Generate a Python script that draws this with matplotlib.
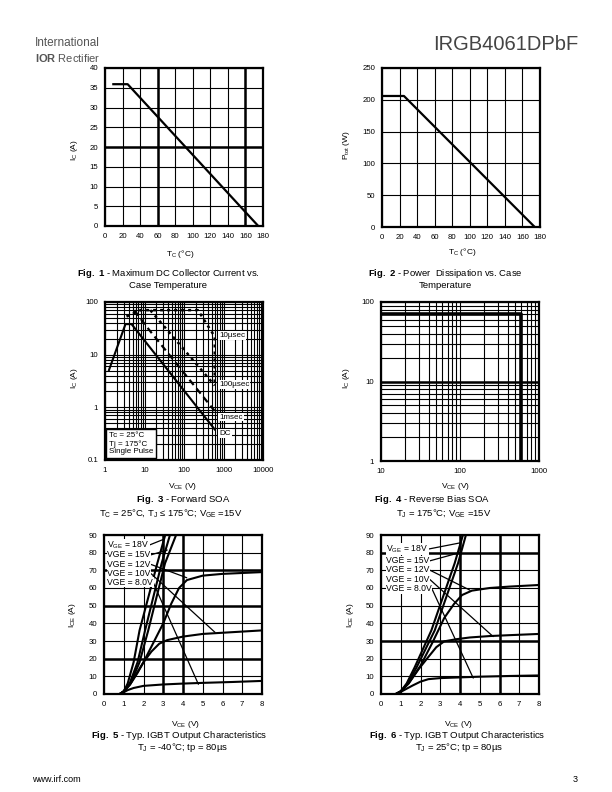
import matplotlib
matplotlib.use('Agg')
import matplotlib.pyplot as plt
from matplotlib.ticker import NullFormatter

plt.rcParams['font.family'] = ['Liberation Sans', 'DejaVu Sans']
plt.rcParams['mathtext.fontset'] = 'custom'
plt.rcParams['mathtext.rm'] = 'Liberation Sans'
plt.rcParams['mathtext.it'] = 'Liberation Sans:italic'
plt.rcParams['mathtext.bf'] = 'Liberation Sans:bold'
plt.rcParams['mathtext.default'] = 'regular'

W, H = 612, 792
CAP = 6.8

# Fig. 1 - max DC collector current vs case temperature
fig1_tc = [9.5, 25.8, 174.6]
fig1_ic = [35.9, 35.9, 0]

# Fig. 2 - power dissipation vs case temperature
fig2_tc = [0, 25, 174]
fig2_ptot = [206, 206, 0]

# Fig. 3 - forward SOA
soa_dc_v = [1.26, 3.3, 4.7, 600]
soa_dc_i = [5.1, 38, 38, 0.38]
soa_1ms_v = [5.5, 11.3, 600]
soa_1ms_i = [70, 34, 0.85]
soa_100us_v = [14, 600]
soa_100us_i = [70, 2.6]
soa_10us_v = [3.5, 8, 225, 600, 600]
soa_10us_i = [53, 70, 70, 22, 2.6]
soa_labels = ['10µsec', '100µsec', '1msec', 'DC']
soa_label_i = [23, 2.74, 0.65, 0.32]

# Fig. 4 - reverse bias SOA
rbsoa_v = [10, 600, 600]
rbsoa_i = [70, 70, 1]

# Fig. 5 - output characteristics, Tj = -40C
f5_18_v = [0.8, 1.0, 1.2, 1.5, 1.8, 2.7, 3.1]
f5_18_i = [0, 1.5, 6, 18, 36, 74, 90]
f5_15_v = [0.8, 1.0, 1.3, 1.7, 2.08, 2.92, 3.34]
f5_15_i = [0, 1.5, 6, 18, 36, 74, 90]
f5_xx_v = [0.8, 1.0, 1.35, 1.8, 2.24, 3.09, 3.65]
f5_xx_i = [0, 1.5, 6, 18, 36, 74, 90]
f5_12_v = [0.8, 1.0, 1.4, 2.0, 2.5, 3.0, 3.4, 3.8, 4.2, 5.0, 6.0, 8.0]
f5_12_i = [0, 1.5, 7, 18, 29, 40, 51, 60, 64.5, 67, 68, 69]
f5_10_v = [0.8, 1.0, 1.3, 1.7, 2.0, 2.4, 2.8, 3.2, 4.0, 5.0, 6.5, 8.0]
f5_10_i = [0, 1.5, 5, 12, 18, 24, 28.5, 30.5, 32.5, 34, 35, 36]
f5_8_v = [0.8, 1.0, 1.2, 1.5, 2.0, 3.0, 4.0, 5.0, 6.5, 8.0]
f5_8_i = [0, 1.0, 2.2, 3.4, 4.6, 5.4, 5.9, 6.3, 6.8, 7.4]

# Fig. 6 - output characteristics, Tj = 25C
f6_18_v = [0.75, 1.0, 1.3, 1.7, 2.55, 3.73, 4.15]
f6_18_i = [0, 1.5, 6, 15, 36, 74, 90]
f6_15_v = [0.75, 1.0, 1.35, 1.8, 2.72, 3.9, 4.3]
f6_15_i = [0, 1.5, 6, 15, 36, 74, 90]
f6_12_v = [0.75, 1.0, 1.4, 2.0, 2.6, 3.2, 3.7, 4.1, 4.6, 5.5, 6.5, 8.0]
f6_12_i = [0, 1.5, 6, 16, 29, 43, 51, 56, 58.5, 60, 60.8, 61.7]
f6_10_v = [0.75, 1.0, 1.4, 1.9, 2.4, 2.8, 3.2, 3.8, 4.5, 5.5, 6.5, 8.0]
f6_10_i = [0, 1.5, 6, 14, 21, 26.5, 29.8, 31, 32, 32.8, 33.3, 34]
f6_8_v = [0.75, 1.0, 1.3, 1.6, 2.0, 2.4, 3.0, 4.0, 5.0, 6.5, 8.0]
f6_8_i = [0, 1.2, 3, 4.8, 7, 8.4, 9, 9.4, 9.8, 10.2, 10.5]

vge_labels = ['V$_{GE}$ = 18V', 'VGE = 15V', 'VGE = 12V', 'VGE = 10V', 'VGE = 8.0V']
f5_label_i = [84.3, 78.7, 73.4, 68.3, 63.2]
f5_target_v = [3.05, 3.2, 4.19, 5.62, 4.78]
f5_target_i = [87.7, 81.5, 65.8, 34.9, 5.5]
f6_label_i = [82.0, 75.3, 70.2, 65.0, 59.6]
f6_target_v = [4.03, 3.98, 4.5, 5.68, 4.67]
f6_target_i = [85.6, 80.0, 58.8, 32.5, 9.0]


def px_axes(fig, left, top, right, bottom):
    return fig.add_axes([left / W, 1 - bottom / H, (right - left) / W, (bottom - top) / H])


def ftext(fig, x, y, s, **kw):
    kw.setdefault('ha', 'center')
    kw.setdefault('va', 'center')
    kw.setdefault('fontsize', CAP)
    return fig.text(x / W, 1 - y / H, s, **kw)


def style(ax, heavy_x=(), heavy_y=()):
    for sp in ax.spines.values():
        sp.set_linewidth(1.6)
    ax.tick_params(which='both', length=0, labelsize=5.6, pad=5)
    ax.grid(which='both', color='k', lw=0.8)
    ax.set_axisbelow(True)
    for v in heavy_x:
        ax.axvline(v, color='k', lw=1.8, zorder=0.6)
    for v in heavy_y:
        ax.axhline(v, color='k', lw=1.8, zorder=0.6)


fig = plt.figure(figsize=(W / 100, H / 100), dpi=100)

# header / footer
ftext(fig, 35, 43, 'International', ha='left', fontsize=8.5, color='#555555')
ftext(fig, 35, 58, r'$\bf{IOR}$ Rectifier', ha='left', fontsize=8, color='#555555')
ftext(fig, 578, 45, 'IRGB4061DPbF', ha='right', fontsize=14.5, color='#444444')
ftext(fig, 32, 779, 'www.irf.com', ha='left', fontsize=6.5)
ftext(fig, 578, 779, '3', ha='right', fontsize=6.5)

# ---- Fig 1 ----
ax1 = px_axes(fig, 105, 68, 263, 226)
ax1.plot(fig1_tc, fig1_ic, color='k', lw=1.6)
ax1.set_xlim(0, 180)
ax1.set_ylim(0, 40)
ax1.set_xticks(range(0, 181, 20))
ax1.set_yticks(range(0, 41, 5))
style(ax1, heavy_x=(60, 160), heavy_y=(20,))
ftext(fig, 75, 150, 'I$_C$ (A)', rotation=90, fontsize=6)
ftext(fig, 180, 254, 'T$_C$ (°C)', fontsize=6)
ftext(fig, 168, 273, r'$\bf{Fig.\ 1}$ - Maximum DC Collector Current vs.')
ftext(fig, 168, 285, 'Case Temperature')

# ---- Fig 2 ----
ax2 = px_axes(fig, 382, 68, 540, 227)
ax2.plot(fig2_tc, fig2_ptot, color='k', lw=1.6)
ax2.set_xlim(0, 180)
ax2.set_ylim(0, 250)
ax2.set_xticks(range(0, 181, 20))
ax2.set_yticks(range(0, 251, 50))
style(ax2)
ftext(fig, 347, 145, 'P$_{tot}$ (W)', rotation=90, fontsize=6)
ftext(fig, 462, 252, 'T$_C$ (°C)', fontsize=6)
ftext(fig, 445, 273, r'$\bf{Fig.\ 2}$ - Power  Dissipation vs. Case')
ftext(fig, 445, 285, 'Temperature')

# ---- Fig 3 ----
ax3 = px_axes(fig, 105, 302, 263, 460)
ax3.set_xscale('log')
ax3.set_yscale('log')
ax3.plot(soa_dc_v, soa_dc_i, color='k', lw=1.5)
ax3.plot(soa_1ms_v, soa_1ms_i, color='k', lw=1.6, ls=(0, (3, 2)))
ax3.plot(soa_100us_v, soa_100us_i, color='k', lw=1.8, ls=(0, (1.2, 1.6)))
ax3.plot(soa_10us_v, soa_10us_i, color='k', lw=1.8, ls=(0, (1.2, 1.6)))
ax3.set_xlim(1, 10000)
ax3.set_ylim(0.1, 100)
ax3.set_xticks([1, 10, 100, 1000, 10000], labels=['1', '10', '100', '1000', '10000'])
ax3.set_yticks([0.1, 1, 10, 100], labels=['0.1', '1', '10', '100'])
ax3.xaxis.set_minor_formatter(NullFormatter())
ax3.yaxis.set_minor_formatter(NullFormatter())
style(ax3)
for lab, yi in zip(soa_labels, soa_label_i):
    ax3.text(783, yi, lab, fontsize=5.8, ha='left', va='center',
             bbox=dict(boxstyle='square,pad=0.1', fc='white', ec='none'))
ax3.text(0.025, 0.03, 'Tc = 25°C\nTj = 175°C\nSingle Pulse', transform=ax3.transAxes,
         fontsize=5.8, ha='left', va='bottom', linespacing=1.15,
         bbox=dict(boxstyle='square,pad=0.35', fc='white', ec='k', lw=1))
ftext(fig, 75, 378, 'I$_C$ (A)', rotation=90, fontsize=6)
ftext(fig, 182, 486, 'V$_{CE}$ (V)', fontsize=6)
ftext(fig, 183, 500, r'$\bf{Fig.\ 3}$ - Forward SOA')
ftext(fig, 171, 513, 'T$_C$ = 25°C, T$_J$ ≤ 175°C; V$_{GE}$ =15V')

# ---- Fig 4 ----
ax4 = px_axes(fig, 381, 302, 539, 461)
ax4.set_xscale('log')
ax4.set_yscale('log')
ax4.plot(rbsoa_v, rbsoa_i, color='k', lw=2.6)
ax4.set_xlim(10, 1000)
ax4.set_ylim(1, 100)
ax4.set_xticks([10, 100, 1000], labels=['10', '100', '1000'])
ax4.set_yticks([1, 10, 100], labels=['1', '10', '100'])
ax4.xaxis.set_minor_formatter(NullFormatter())
ax4.yaxis.set_minor_formatter(NullFormatter())
style(ax4, heavy_y=(10,))
ftext(fig, 347, 378, 'I$_C$ (A)', rotation=90, fontsize=6)
ftext(fig, 455, 486, 'V$_{CE}$ (V)', fontsize=6)
ftext(fig, 432, 500, r'$\bf{Fig.\ 4}$ - Reverse Bias SOA')
ftext(fig, 444, 513, 'T$_J$ = 175°C; V$_{GE}$ =15V')


def output_chart(ax, curves, label_i, label_v, target_v, target_i, heavy_x, heavy_y):
    for v, i in curves:
        ax.plot(v, i, color='k', lw=1.5)
    ax.set_xlim(0, 8)
    ax.set_ylim(0, 90)
    ax.set_xticks(range(0, 9))
    ax.set_yticks(range(0, 91, 10))
    style(ax, heavy_x=heavy_x, heavy_y=heavy_y)
    for lab, yi, tv, ti in zip(vge_labels, label_i, target_v, target_i):
        ax.annotate(lab, xy=(tv, ti), xytext=(label_v, yi), fontsize=6.2, ha='left', va='center',
                    bbox=dict(boxstyle='square,pad=0.05', fc='white', ec='none'),
                    arrowprops=dict(arrowstyle='-', lw=0.9, color='k', shrinkA=0, shrinkB=0,
                                    relpos=(1, 0.5)))


# ---- Fig 5 ----
ax5 = px_axes(fig, 104, 535, 262, 694)
output_chart(ax5, [(f5_18_v, f5_18_i), (f5_15_v, f5_15_i), (f5_xx_v, f5_xx_i),
                   (f5_12_v, f5_12_i), (f5_10_v, f5_10_i), (f5_8_v, f5_8_i)],
             f5_label_i, 0.17, f5_target_v, f5_target_i, heavy_x=(3, 4), heavy_y=(20, 50, 70))
ftext(fig, 72, 615, 'I$_{CE}$ (A)', rotation=90, fontsize=6)
ftext(fig, 185, 724, 'V$_{CE}$ (V)', fontsize=6)
ftext(fig, 179, 736, r'$\bf{Fig.\ 5}$ - Typ. IGBT Output Characteristics')
ftext(fig, 183, 748, 'T$_J$ = -40°C; tp = 80µs')

# ---- Fig 6 ----
ax6 = px_axes(fig, 381, 535, 539, 694)
output_chart(ax6, [(f6_18_v, f6_18_i), (f6_15_v, f6_15_i), (f6_12_v, f6_12_i),
                   (f6_10_v, f6_10_i), (f6_8_v, f6_8_i)],
             f6_label_i, 0.26, f6_target_v, f6_target_i, heavy_x=(4, 6), heavy_y=(30, 80))
ftext(fig, 350, 615, 'I$_{CE}$ (A)', rotation=90, fontsize=6)
ftext(fig, 458, 724, 'V$_{CE}$ (V)', fontsize=6)
ftext(fig, 457, 736, r'$\bf{Fig.\ 6}$ - Typ. IGBT Output Characteristics')
ftext(fig, 459, 748, 'T$_J$ = 25°C; tp = 80µs')

fig.savefig('out.png', dpi=100)
